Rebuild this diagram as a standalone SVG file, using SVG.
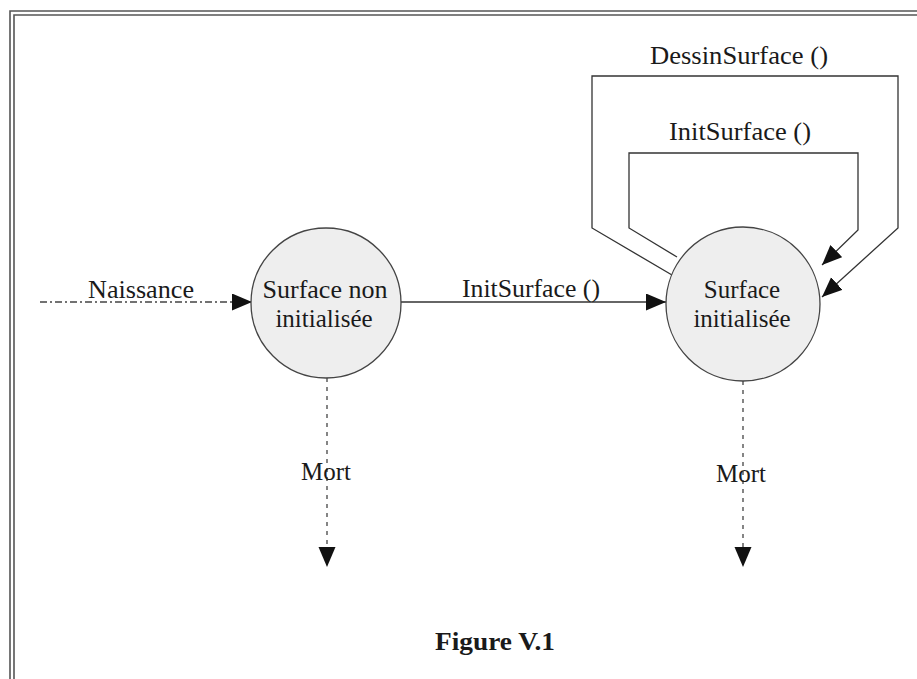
<svg xmlns="http://www.w3.org/2000/svg" width="917" height="679" viewBox="0 0 917 679">
<style>
text{font-family:"Liberation Serif","Times New Roman",serif;font-size:25px;fill:#1a1a1a;text-anchor:middle}
.frame{fill:none;stroke:#555;stroke-width:1.6}
.state{fill:#eeeeee;stroke:#444;stroke-width:1.3}
.solid{fill:none;stroke:#333;stroke-width:1.3}
.dotted{fill:none;stroke:#444;stroke-width:1.3;stroke-dasharray:4 5}
.dashdot{fill:none;stroke:#444;stroke-width:1.3;stroke-dasharray:7 3 2 3}
.title{font-weight:bold}
</style>
<defs>
<marker id="arr" markerUnits="userSpaceOnUse" markerWidth="22" markerHeight="20" refX="20" refY="8.5" orient="auto">
<path d="M0,0 L20,8.5 L0,17 z" fill="#111"/>
</marker>
</defs>
<rect x="0" y="0" width="917" height="679" fill="#fff"/>
<g id="frame">
<path class="frame" d="M10,679 V11 H917"/>
<path class="frame" d="M14,679 V15 H917"/>
</g>
<g id="connectors">
<line class="dashdot" x1="40" y1="302" x2="252" y2="302" marker-end="url(#arr)"/>
<line class="solid" x1="401" y1="302" x2="666" y2="302" marker-end="url(#arr)"/>
<line class="dotted" x1="327" y1="378" x2="327" y2="567" marker-end="url(#arr)"/>
<line class="dotted" x1="743" y1="381" x2="743" y2="567" marker-end="url(#arr)"/>
<polyline class="solid" points="672,275 592,228 592,76 898,76 898,228 822,297" marker-end="url(#arr)"/>
<polyline class="solid" points="677,257 629,228 629,153 858,153 858,230 822,265" marker-end="url(#arr)"/>
</g>
<g id="labels">
<text x="141" y="298" textLength="106" lengthAdjust="spacingAndGlyphs">Naissance</text>
<text x="531" y="297" textLength="138" lengthAdjust="spacingAndGlyphs">InitSurface ()</text>
<text x="740" y="140" textLength="142" lengthAdjust="spacingAndGlyphs">InitSurface ()</text>
<text x="739" y="64" textLength="178" lengthAdjust="spacingAndGlyphs">DessinSurface ()</text>
<text x="326" y="480">Mort</text>
<text x="741" y="482">Mort</text>
</g>
<g id="node-non-init">
<circle class="state" cx="326" cy="303" r="75"/>
<text x="325" y="298" textLength="125" lengthAdjust="spacingAndGlyphs">Surface non</text>
<text x="324" y="327">initialisée</text>
</g>
<g id="node-init">
<circle class="state" cx="743" cy="304" r="77"/>
<text x="742" y="298">Surface</text>
<text x="742" y="327">initialisée</text>
</g>
<g id="caption">
<text class="title" x="495" y="650" textLength="120" lengthAdjust="spacingAndGlyphs">Figure V.1</text>
</g>
</svg>
